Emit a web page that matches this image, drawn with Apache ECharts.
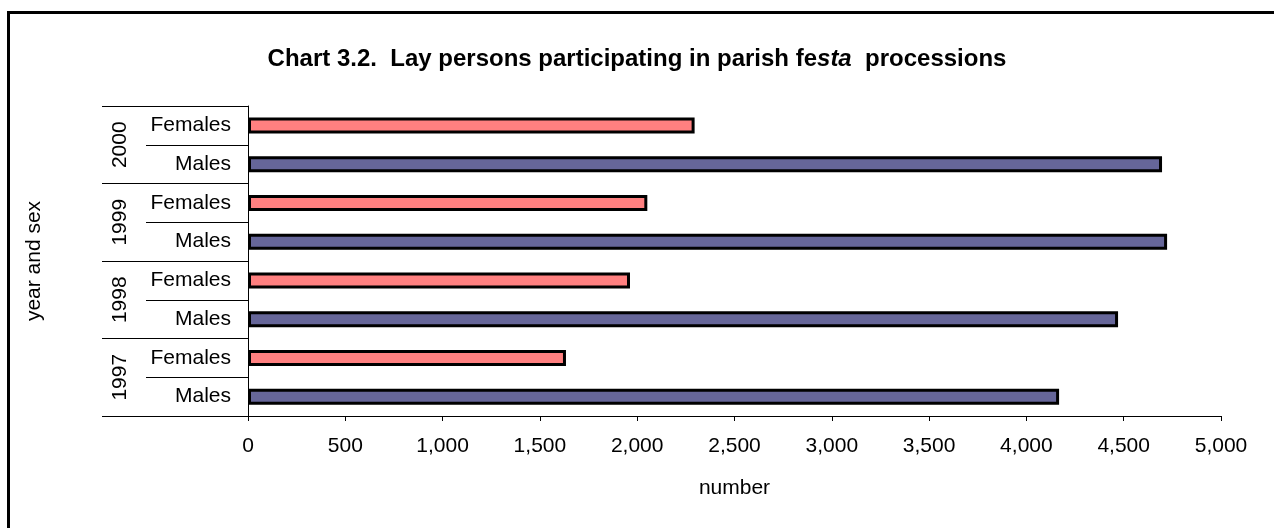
<!DOCTYPE html>
<html>
<head>
<meta charset="utf-8">
<script src="https://cdn.jsdelivr.net/npm/echarts@6/dist/echarts.min.js"></script>
<style>
html,body{margin:0;padding:0;background:#fff;}
#chart{width:1274px;height:528px;}
</style>
</head>
<body>
<div id="chart"></div>
<script>
// Data (top to bottom as drawn)
const years = ['2000', '1999', '1998', '1997'];
const sexes = ['Females', 'Males'];
const females = [2295, 2052, 1963, 1634];
const males = [4697, 4723, 4471, 4168];
const xTicks = [0, 500, 1000, 1500, 2000, 2500, 3000, 3500, 4000, 4500, 5000];

const FONT = '"Liberation Sans", Arial, sans-serif';
const FS = 21;

// Build categories: one per year×sex
const cats = [];
const femData = [];
const maleData = [];
years.forEach((y, i) => {
  sexes.forEach(s => {
    cats.push(y + '|' + s);
    femData.push(s === 'Females' ? females[i] : null);
    maleData.push(s === 'Males' ? males[i] : null);
  });
});

const chart = echarts.init(document.getElementById('chart'), null, {renderer: 'canvas'});
chart.setOption({
  animation: false,
  backgroundColor: '#fff',
  textStyle: {fontFamily: FONT},
  title: {
    left: 'center',
    top: 42,
    text: '{b|Chart 3.2.  Lay persons participating in parish fe}{i|sta}{b|  processions}',
    textStyle: {
      rich: {
        b: {fontFamily: FONT, fontSize: 24, fontWeight: 'bold', color: '#000'},
        i: {fontFamily: FONT, fontSize: 24, fontWeight: 'bold', fontStyle: 'italic', color: '#000'}
      }
    }
  },
  graphic: [{
    type: 'rect',
    left: 6, top: 10,
    shape: {width: 1300, height: 600},
    style: {fill: 'none', stroke: '#000', lineWidth: 3},
    silent: true
  }],
  grid: {left: 248, right: 53, top: 106, bottom: 112, containLabel: false},
  xAxis: {
    type: 'value',
    min: xTicks[0],
    max: xTicks[xTicks.length - 1],
    interval: xTicks[1] - xTicks[0],
    name: 'number',
    nameLocation: 'middle',
    nameGap: 62,
    nameTextStyle: {fontFamily: FONT, fontSize: FS, color: '#000'},
    axisLine: {show: true, lineStyle: {color: '#000', width: 1}},
    axisTick: {show: true, length: 5, lineStyle: {color: '#000', width: 1}},
    axisLabel: {
      margin: 20,
      fontFamily: FONT, fontSize: FS, color: '#000',
      formatter: v => v.toLocaleString('en-US')
    },
    splitLine: {show: false}
  },
  yAxis: [{
    type: 'category',
    data: cats,
    inverse: true,
    axisLine: {show: true, lineStyle: {color: '#000', width: 1}},
    axisTick: {show: true, length: 102, lineStyle: {color: '#000', width: 1}},
    axisLabel: {
      margin: 17,
      fontFamily: FONT, fontSize: FS, color: '#000',
      formatter: v => v.split('|')[1]
    },
    splitLine: {show: false}
  }, {
    type: 'category',
    data: years,
    inverse: true,
    position: 'left',
    name: 'year and sex',
    nameLocation: 'middle',
    nameGap: 203,
    nameRotate: 90,
    nameTextStyle: {fontFamily: FONT, fontSize: FS, color: '#000'},
    axisLine: {show: false},
    axisTick: {show: true, length: 146, lineStyle: {color: '#000', width: 1}},
    axisLabel: {
      rotate: 90,
      margin: 128,
      verticalAlign: 'middle',
      fontFamily: FONT, fontSize: FS, color: '#000'
    },
    splitLine: {show: false}
  }],
  series: [{
    name: 'Females',
    type: 'bar',
    stack: 'all',
    yAxisIndex: 0,
    barWidth: 16,
    data: femData,
    itemStyle: {color: '#FF8080', borderColor: '#000', borderWidth: 3}
  }, {
    name: 'Males',
    type: 'bar',
    stack: 'all',
    yAxisIndex: 0,
    barWidth: 16,
    data: maleData,
    itemStyle: {color: '#666699', borderColor: '#000', borderWidth: 3}
  }]
});
</script>
</body>
</html>
